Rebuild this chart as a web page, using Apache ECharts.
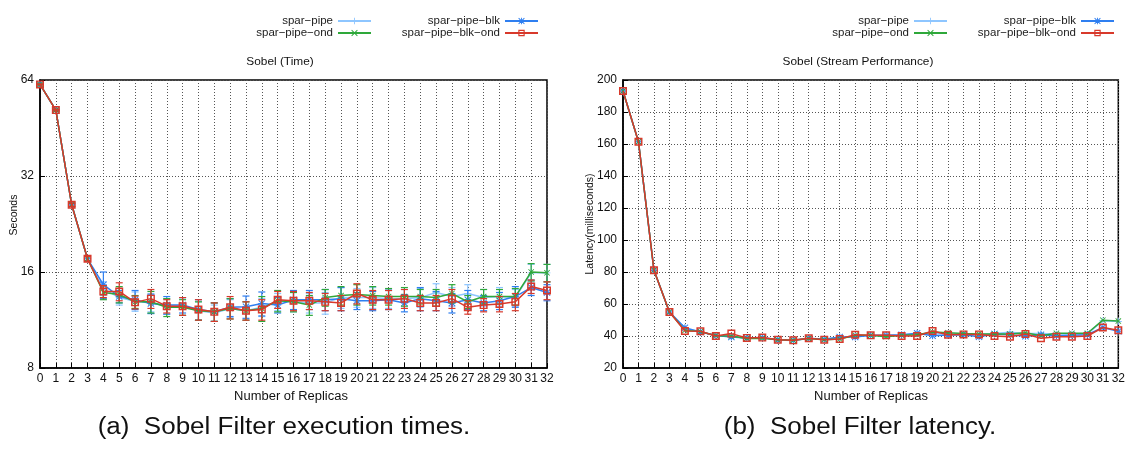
<!DOCTYPE html>
<html><head><meta charset="utf-8">
<script src="https://cdn.jsdelivr.net/npm/echarts@6/dist/echarts.min.js"></script>
<style>html,body{margin:0;padding:0;background:#fff}#c{width:1128px;height:450px}</style>
</head><body><div id="c"></div>
<script>
// ---------- data ----------
const replicas = ['0','1','2','3','4','5','6','7','8','9','10','11','12','13','14','15','16','17','18','19','20','21','22','23','24','25','26','27','28','29','30','31','32'];
const seriesNames = ['spar−pipe', 'spar−pipe−blk', 'spar−pipe−ond', 'spar−pipe−blk−ond'];
const timeTicks = [8, 16, 32, 64];

// execution time (seconds)
const timePipe     = [62.0, 51.5, 26.0, 17.6, 14.2, 13.3, 12.95, 12.8, 12.5, 12.5, 12.1, 11.9, 12.3, 12.1, 12.4, 12.9, 12.9, 12.8, 12.8, 13.3, 13.3, 13.3, 13.2, 13.2, 13.3, 13.8, 13.4, 13.7, 13.3, 13.4, 13.3, 15.9, 15.9];
const timeBlk      = [62.0, 51.5, 26.0, 17.6, 14.6, 13.4, 13.1, 12.75, 12.6, 12.6, 12.2, 12.0, 12.4, 12.45, 12.75, 12.6, 13.1, 13.1, 13.1, 13.2, 13.0, 13.0, 13.1, 12.8, 13.2, 13.0, 12.8, 13.1, 12.8, 13.0, 13.4, 14.3, 13.8];
const timeOnd      = [62.0, 51.5, 26.0, 17.6, 13.8, 13.6, 12.9, 12.9, 12.4, 12.4, 12.1, 12.0, 12.3, 12.1, 12.3, 13.0, 12.9, 12.6, 13.3, 13.5, 13.6, 13.5, 13.4, 13.4, 13.4, 13.3, 13.7, 12.9, 13.4, 13.4, 13.4, 16.0, 15.9];
const timeBlkOnd   = [62.0, 51.5, 26.0, 17.6, 13.9, 13.9, 12.85, 13.2, 12.5, 12.5, 12.2, 12.0, 12.4, 12.1, 12.2, 13.1, 13.0, 13.0, 12.9, 12.8, 13.7, 13.1, 13.1, 13.2, 12.8, 12.8, 13.2, 12.4, 12.6, 12.7, 12.9, 14.4, 14.0];

// error (± seconds)
const errPipe      = [0.2, 0.3, 0.3, 0.3, 0.7, 0.7, 0.9, 0.8, 0.7, 0.8, 0.8, 0.7, 0.8, 0.8, 0.8, 0.8, 0.9, 0.9, 1.0, 1.0, 0.9, 1.0, 0.9, 0.9, 0.9, 0.9, 0.9, 0.9, 0.8, 0.9, 0.8, 1.0, 1.0];
const errBlk       = [0.2, 0.3, 0.3, 0.3, 1.4, 0.6, 0.9, 0.9, 0.8, 0.7, 0.9, 0.8, 0.8, 1.0, 1.1, 0.7, 0.9, 0.9, 1.0, 1.1, 0.8, 0.9, 0.9, 0.8, 1.1, 0.9, 0.9, 0.9, 0.7, 0.8, 1.0, 0.8, 0.8];
const errOnd       = [0.2, 0.3, 0.3, 0.3, 0.7, 0.8, 0.6, 1.0, 0.8, 0.7, 0.8, 0.8, 0.9, 0.8, 1.1, 1.0, 0.9, 0.9, 0.8, 0.9, 1.0, 0.9, 0.8, 0.9, 0.7, 0.8, 0.9, 0.6, 0.7, 0.7, 0.8, 1.0, 1.0];
const errBlkOnd    = [0.2, 0.3, 0.3, 0.3, 0.6, 0.9, 0.6, 0.9, 0.6, 0.8, 0.9, 0.8, 1.0, 0.8, 0.9, 0.8, 0.9, 0.8, 0.8, 0.7, 1.0, 0.9, 0.9, 0.9, 0.7, 0.7, 0.9, 0.6, 0.6, 0.7, 0.8, 0.7, 0.9];

// latency (milliseconds)
const latPipe      = [193.1, 161.4, 81.1, 55.0, 44.5, 42.6, 40.3, 39.8, 38.6, 38.8, 37.5, 37.2, 38.4, 37.9, 39.0, 40.0, 40.2, 40.2, 40.5, 41.2, 41.4, 41.5, 41.0, 40.9, 41.6, 42.3, 41.5, 41.5, 41.2, 41.2, 41.3, 49.5, 49.0];
const latBlk       = [193.1, 161.4, 81.1, 55.0, 45.2, 42.5, 40.3, 39.4, 38.8, 39.0, 37.7, 37.3, 38.6, 38.0, 39.4, 39.4, 40.4, 40.4, 40.8, 41.7, 40.2, 40.6, 40.8, 39.5, 41.3, 40.8, 39.8, 40.8, 40.2, 40.5, 40.8, 45.3, 42.9];
const latOnd       = [193.1, 161.4, 81.1, 55.0, 43.5, 42.8, 40.2, 40.0, 38.5, 38.6, 37.6, 37.3, 38.4, 37.6, 38.1, 40.4, 40.4, 39.6, 40.4, 40.8, 42.5, 42.0, 41.5, 41.3, 41.3, 41.3, 42.0, 40.2, 41.7, 41.7, 41.7, 49.9, 49.3];
const latBlkOnd    = [193.1, 161.4, 81.1, 55.0, 43.1, 43.0, 40.0, 41.5, 38.8, 39.0, 37.7, 37.3, 38.6, 37.7, 38.1, 40.8, 40.4, 40.4, 40.0, 40.0, 43.1, 40.8, 41.0, 41.0, 40.0, 39.5, 41.3, 38.6, 39.5, 39.6, 40.0, 45.3, 43.6];

// ---------- styles ----------
const FONT = "'Liberation Sans', Arial, Helvetica, sans-serif";
const colors = ['#8ec6ff', '#2f7ff0', '#2ea83a', '#d8392b'];
const symPlus = 'path://M4.3,0h1.4v4.3h4.3v1.4h-4.3v4.3h-1.4v-4.3h-4.3v-1.4h4.3z';
const symCross = 'path://M1,0L5,4L9,0L10,1L6,5L10,9L9,10L5,6L1,10L0,9L4,5L0,1Z';
const symStar = 'path://M4.3,0h1.4v10h-1.4z M0,4.3h10v1.4h-10z M1,0L5,4L9,0L10,1L6,5L10,9L9,10L5,6L1,10L0,9L4,5L0,1Z';
const symSquare = 'path://M0,0h10v10h-10z M1.8,1.8v6.4h6.4v-6.4z';
const symbols = [symPlus, symStar, symCross, symSquare];
const symSizes = [7, 7, 6, 8];

const timeData = [timePipe, timeBlk, timeOnd, timeBlkOnd];
const errData = [errPipe, errBlk, errOnd, errBlkOnd];
const latData = [latPipe, latBlk, latOnd, latBlkOnd];

function errRender(params, api) {
  const i = api.value(0), v = api.value(1), e = api.value(2);
  const top = api.coord([i, v + e]), bot = api.coord([i, v - e]);
  const w = 3.5;
  const st = { stroke: api.visual('color'), lineWidth: 1.2 };
  return { type: 'group', children: [
    { type: 'line', shape: { x1: top[0], y1: top[1], x2: bot[0], y2: bot[1] }, style: st },
    { type: 'line', shape: { x1: top[0] - w, y1: top[1], x2: top[0] + w, y2: top[1] }, style: st },
    { type: 'line', shape: { x1: bot[0] - w, y1: bot[1], x2: bot[0] + w, y2: bot[1] }, style: st }
  ]};
}

const series = [];
for (let k = 0; k < 4; k++) {
  series.push({
    type: 'custom', name: 'err' + k, xAxisIndex: 0, yAxisIndex: 0,
    renderItem: errRender, encode: { x: 0, y: 1 },
    itemStyle: { color: colors[k] }, z: 2 + k * 2,
    data: replicas.map((c, i) => [i, timeData[k][i], errData[k][i]])
  });
  series.push({
    type: 'line', name: seriesNames[k], xAxisIndex: 0, yAxisIndex: 0,
    data: timeData[k], symbol: symbols[k], symbolSize: symSizes[k],
    showAllSymbol: true, z: 3 + k * 2,
    lineStyle: { color: colors[k], width: 1.5 }, itemStyle: { color: colors[k] },
    emphasis: { disabled: true }
  });
}
for (let k = 0; k < 4; k++) {
  series.push({
    type: 'line', name: seriesNames[k], xAxisIndex: 1, yAxisIndex: 1,
    data: latData[k], symbol: symbols[k], symbolSize: symSizes[k],
    showAllSymbol: true, z: 3 + k * 2,
    lineStyle: { color: colors[k], width: 1.5 }, itemStyle: { color: colors[k] },
    emphasis: { disabled: true }
  });
}

const gridLine = { show: true, lineStyle: { color: '#555', type: [1, 2], width: 1 } };
function xAxis(gi) {
  return {
    type: 'category', gridIndex: gi, data: replicas, boundaryGap: false,
    axisLine: { lineStyle: { color: '#000', width: 1.5 } },
    axisTick: { inside: true, length: 5, alignWithLabel: true, interval: 0, lineStyle: { color: '#000' } },
    axisLabel: { interval: 0, color: '#111', fontSize: 12, fontFamily: FONT, margin: 5 },
    splitLine: gridLine
  };
}
const axisCommonY = {
  axisLine: { show: true, lineStyle: { color: '#000', width: 1.5 } },
  axisTick: { show: true, inside: true, length: 5, lineStyle: { color: '#000' } },
  axisLabel: { color: '#111', fontSize: 12, fontFamily: FONT, margin: 6 },
  splitLine: gridLine
};

const legendBase = {
  orient: 'horizontal', align: 'right', padding: 0, itemWidth: 33, itemHeight: 8, itemGap: 0,
  textStyle: { fontSize: 11.5, fontFamily: FONT, color: '#222' }, selectedMode: false
};
const legendPos = [
  [0, 756, 15], [1, 589, 15], [2, 756, 27], [3, 589, 27],
  [0, 180, 15], [1, 13, 15], [2, 180, 27], [3, 13, 27]
];
const legends = legendPos.map(p => Object.assign({}, legendBase, { data: [seriesNames[p[0]]], right: p[1], top: p[2] }));

const txt = (text, x, y, size, sx, rot) => ({
  type: 'text', x: x, y: y, rotation: rot || 0, scaleX: sx || 1,
  style: { text: text, fill: '#111', font: size + 'px ' + FONT, textAlign: 'center', textVerticalAlign: 'middle' }
});

const option = {
  backgroundColor: '#fff',
  animation: false,
  legend: legends,
  grid: [
    { left: 40, right: 581, top: 80, height: 288, show: true, borderColor: '#000', borderWidth: 1.5 },
    { left: 623, right: 8, top: 80, height: 288, show: true, borderColor: '#000', borderWidth: 1.5 }
  ],
  xAxis: [xAxis(0), xAxis(1)],
  yAxis: [
    Object.assign({ type: 'log', logBase: 2, gridIndex: 0, min: timeTicks[0], max: timeTicks[3], interval: 1 }, axisCommonY),
    Object.assign({ type: 'value', gridIndex: 1, min: 20, max: 200, interval: 20 }, axisCommonY)
  ],
  graphic: [
    txt('Sobel (Time)', 280, 62, 11.5, 1.03),
    txt('Sobel (Stream Performance)', 858, 62, 11.5, 1.03),
    txt('Seconds', 14, 215, 10.5, 1, Math.PI / 2),
    txt('Latency(milliseconds)', 590, 224, 10.5, 1, Math.PI / 2),
    txt('Number of Replicas', 291, 397, 12, 1.08),
    txt('Number of Replicas', 871, 397, 12, 1.08),
    txt('(a)  Sobel Filter execution times.', 284, 428, 23, 1.13),
    txt('(b)  Sobel Filter latency.', 860, 428, 23, 1.13)
  ],
  series: series
};

const chart = echarts.init(document.getElementById('c'), null, { renderer: 'canvas' });
chart.setOption(option);
</script>
</body></html>
